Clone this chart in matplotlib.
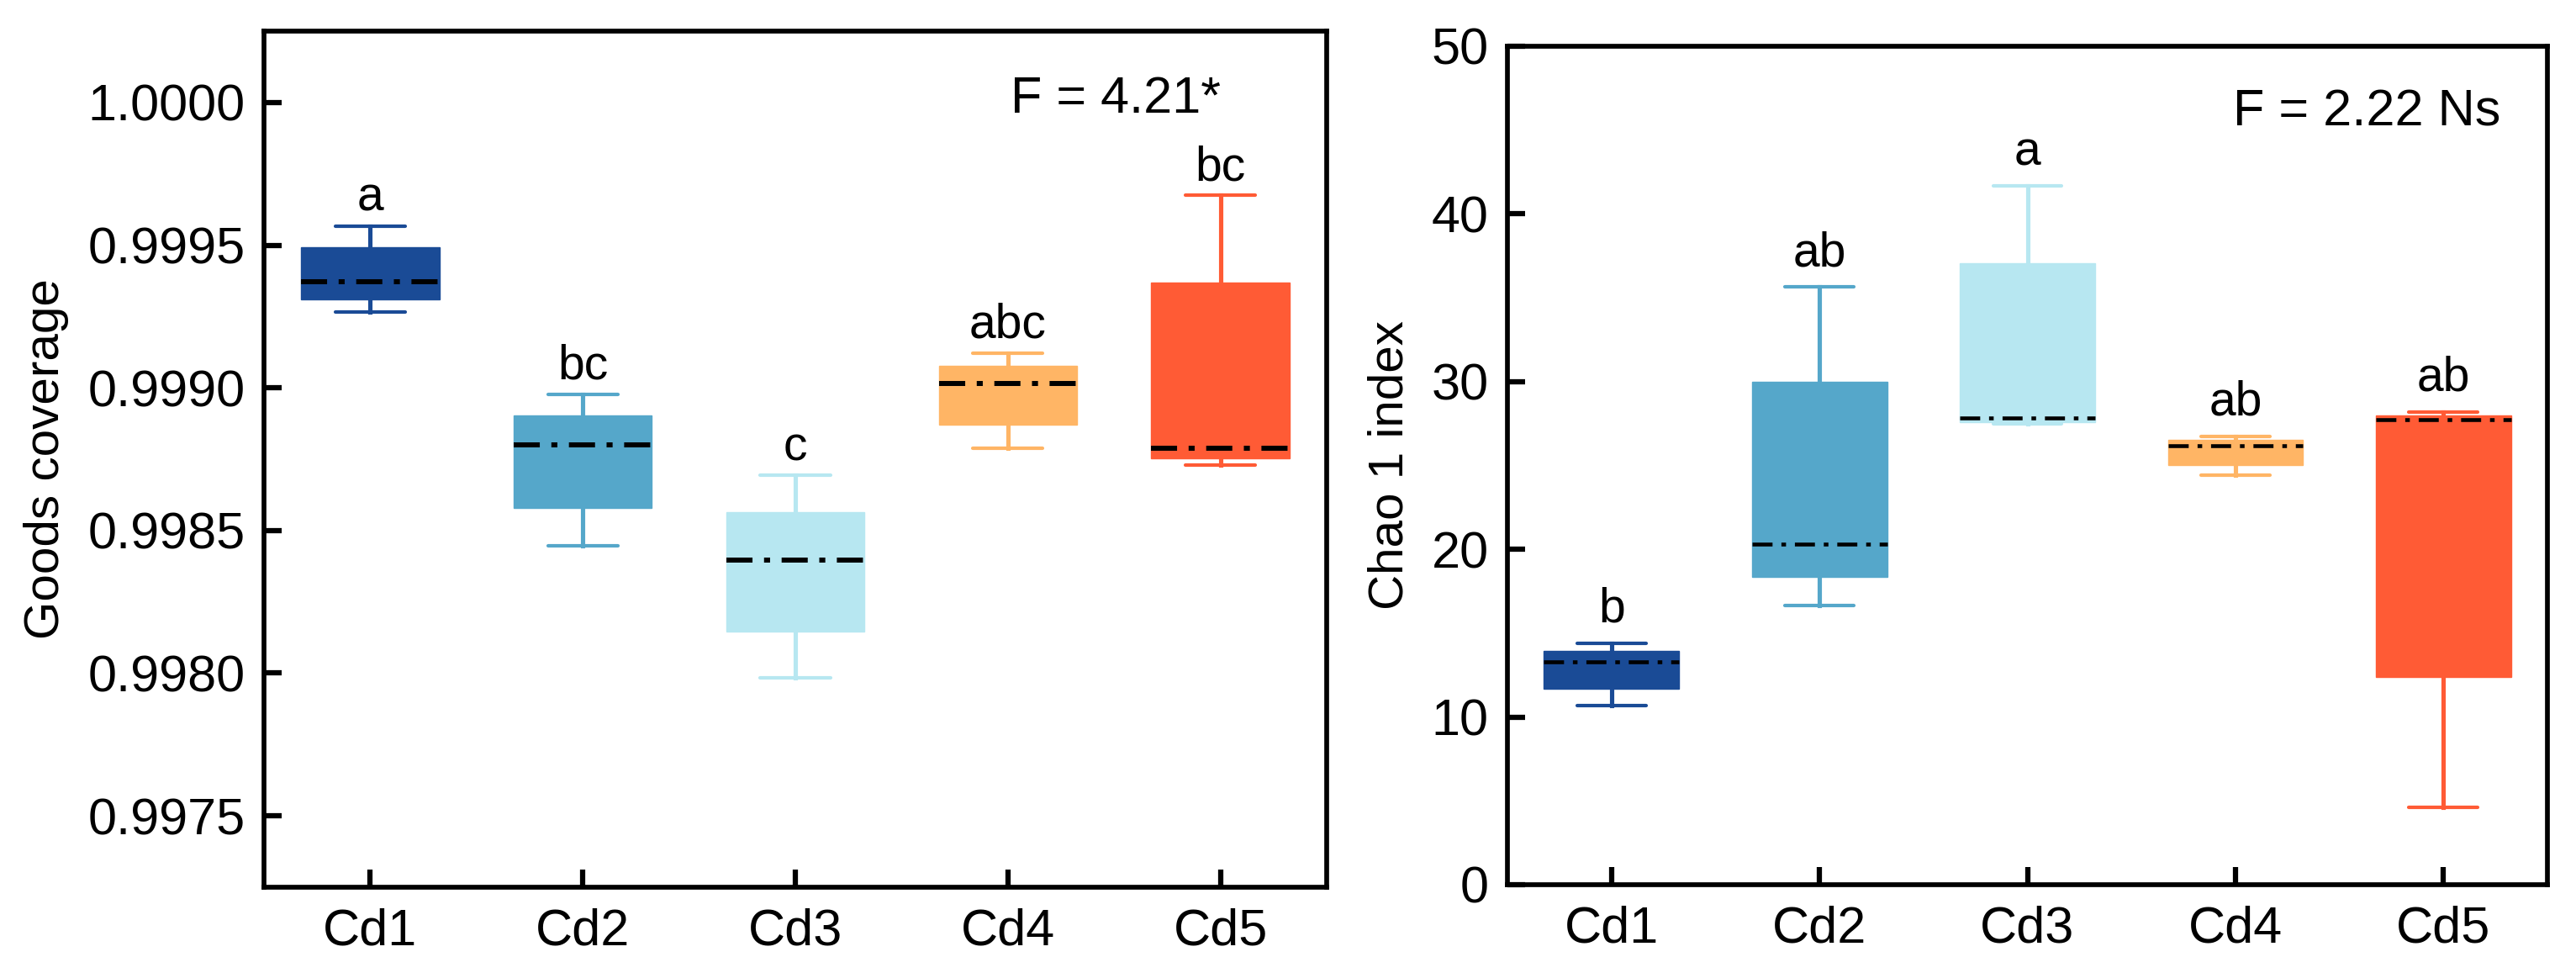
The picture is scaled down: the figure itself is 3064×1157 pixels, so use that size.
import matplotlib
matplotlib.use('Agg')
import matplotlib.pyplot as plt

plt.rcParams['font.family'] = ['Liberation Sans', 'DejaVu Sans']

# groups and colours
groups = ['Cd1', 'Cd2', 'Cd3', 'Cd4', 'Cd5']
colors = ['#1a4b96', '#55a7ca', '#b7e7f1', '#ffb565', '#ff5b35']

# Goods coverage box stats
goods_whislo = [0.999265, 0.998446, 0.997985, 0.998787, 0.998730]
goods_q1 = [0.999309, 0.998580, 0.998146, 0.998870, 0.998752]
goods_med = [0.999372, 0.998800, 0.998396, 0.999015, 0.998787]
goods_q3 = [0.999493, 0.998902, 0.998563, 0.999076, 0.999370]
goods_whishi = [0.999567, 0.998978, 0.998693, 0.999122, 0.999674]
goods_letters = ['a', 'bc', 'c', 'abc', 'bc']
goods_ticks = [0.9975, 0.9980, 0.9985, 0.9990, 0.9995, 1.0000]

# Chao 1 box stats
chao_whislo = [10.67, 16.67, 27.50, 24.42, 4.63]
chao_q1 = [11.67, 18.33, 27.58, 25.03, 12.37]
chao_med = [13.30, 20.30, 27.83, 26.18, 27.74]
chao_q3 = [13.93, 30.00, 37.06, 26.53, 28.00]
chao_whishi = [14.41, 35.63, 41.67, 26.73, 28.19]
chao_letters = ['b', 'ab', 'a', 'ab', 'ab']
chao_ticks = [0, 10, 20, 30, 40, 50]

TICK_FS = 44
LABEL_FS = 42
LETTER_FS = 41


def draw_panel(ax, whislo, q1, med, q3, whishi, letters, ftext, fx, ylabel,
               letter_off, med_lw):
    stats = []
    for i in range(len(groups)):
        stats.append(dict(label=groups[i], whislo=whislo[i], q1=q1[i], med=med[i],
                          q3=q3[i], whishi=whishi[i], fliers=[]))
    pos = list(range(1, len(groups) + 1))
    bp = ax.bxp(stats, positions=pos, widths=0.65, capwidths=0.33,
                patch_artist=True, showfliers=False,
                medianprops=dict(color='black', linewidth=med_lw,
                                 linestyle=(0, (5.2, 2.3, 1.2, 2.3))))
    for i, c in enumerate(colors):
        bp['boxes'][i].set_facecolor(c)
        bp['boxes'][i].set_edgecolor(c)
        bp['boxes'][i].set_linewidth(1)
        for ln in bp['whiskers'][2 * i:2 * i + 2]:
            ln.set_color(c)
            ln.set_linewidth(3.7)
        for ln in bp['caps'][2 * i:2 * i + 2]:
            ln.set_color(c)
            ln.set_linewidth(3.0)
            ln.set_solid_capstyle('round')
        bp['medians'][i].set_zorder(4)
        ax.annotate(letters[i], (pos[i], whishi[i]), xytext=(0, letter_off),
                    textcoords='offset points', ha='center', va='baseline',
                    fontsize=LETTER_FS)

    ax.set_xlim(0.5, 5.5)
    ax.set_xticks(pos)
    ax.set_xticklabels(groups)
    ax.set_ylabel(ylabel, fontsize=LABEL_FS, labelpad=16)
    ax.tick_params(direction='in', length=15, width=4.5, labelsize=TICK_FS)
    ax.tick_params(axis='y', pad=16)
    ax.tick_params(axis='x', pad=18)
    for sp in ax.spines.values():
        sp.set_linewidth(4.1)
    ax.text(fx, 0.905, ftext, transform=ax.transAxes, ha='right', va='baseline',
            fontsize=TICK_FS)


fig = plt.figure(figsize=(30.64, 11.57), dpi=100)
ax1 = fig.add_axes([0.1025, 0.0882, 0.4125, 0.8798])
ax2 = fig.add_axes([0.5852, 0.0908, 0.4037, 0.8617])

draw_panel(ax1, goods_whislo, goods_q1, goods_med, goods_q3, goods_whishi,
           goods_letters, 'F = 4.21*', 0.90, 'Goods coverage', 13, 4.3)
ax1.set_ylim(0.99725, 1.00025)
ax1.set_yticks(goods_ticks)
ax1.set_yticklabels(['%.4f' % t for t in goods_ticks])

draw_panel(ax2, chao_whislo, chao_q1, chao_med, chao_q3, chao_whishi,
           chao_letters, 'F = 2.22 Ns', 0.955, 'Chao 1 index', 18, 3.3)
ax2.set_ylim(0, 50)
ax2.set_yticks(chao_ticks)

fig.savefig('out.png', dpi=100)
